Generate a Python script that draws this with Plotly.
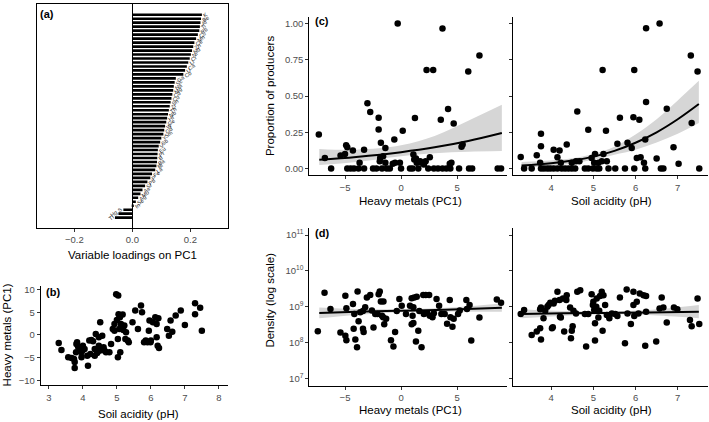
import plotly.graph_objects as go

W, H = 709, 422

# ---------------- Panel (a): PC1 loadings ----------------
elements = ["K", "Be", "Al", "Ti", "Rb", "Cs", "Mn", "Ce", "Zn", "Nd", "Ni", "Cr", "Li",
            "Ca", "U", "Co", "Ga", "Sc", "Na", "Mg", "Cd", "Cu", "Sn", "Zr", "Th", "Nb",
            "Hf", "Ge", "W", "Gd", "Sm", "Y", "Sb", "V", "Eu", "Pr", "B", "Ba", "Bi",
            "La", "Fe", "P", "Pb", "Sr", "As", "Mo", "Ag", "Se", "In", "S", "Hg", "Tl"]
loadings = [0.240, 0.237, 0.235, 0.233, 0.231, 0.226, 0.220, 0.214, 0.210, 0.206, 0.202,
            0.198, 0.193, 0.188, 0.182, 0.176, 0.150, 0.146, 0.143, 0.141, 0.138, 0.135,
            0.132, 0.129, 0.126, 0.123, 0.120, 0.117, 0.113, 0.110, 0.107, 0.100, 0.096,
            0.091, 0.088, 0.087, 0.086, 0.085, 0.083, 0.079, 0.068, 0.062, 0.052, 0.044,
            0.035, 0.028, 0.020, 0.012, 0.005, -0.031, -0.048, -0.060]
loading_ticks = [-0.2, 0.0, 0.2]

# ---------------- Panel (b): pH vs PC1 ----------------
ph_b = [3.29, 3.37, 3.57, 3.67, 3.74, 3.76, 3.76, 3.80, 3.81, 3.83, 3.86, 3.91, 3.96, 3.96,
        4.00, 4.00, 4.05, 4.13, 4.15, 4.19, 4.22, 4.25, 4.30, 4.35, 4.35, 4.38, 4.42, 4.47,
        4.47, 4.49, 4.51, 4.57, 4.61, 4.64, 4.68, 4.78, 4.83, 4.88, 4.93, 4.93, 4.98, 5.00,
        5.03, 5.03, 5.04, 5.05, 5.07, 5.09, 5.10, 5.12, 5.15, 5.17, 5.19, 5.22, 5.25, 5.27,
        5.32, 5.35, 5.46, 5.54, 5.62, 5.71, 5.74, 5.80, 5.85, 5.90, 5.94, 5.96, 5.99, 6.00,
        6.06, 6.13, 6.17, 6.17, 6.20, 6.22, 6.24, 6.48, 6.53, 6.58, 6.63, 6.73, 6.88, 7.00,
        7.30, 7.30, 7.45, 7.50]
pc1_b = [-1.8, -3.3, -4.9, -5.1, -5.3, -6.0, -7.3, -3.8, -2.0, -1.6, -2.6, -2.9, -3.8, -4.9,
         -2.4, -3.3, -3.1, -4.6, -6.8, -1.25, -4.2, -1.1, -1.4, -3.1, -4.6, 0.2, -4.0, -2.4,
         -0.5, -3.5, 2.8, -0.15, -2.7, -3.5, -3.8, -3.8, -2.0, 1.3, 0.95, 2.4, 9.0, 3.3,
         -4.9, -0.9, 8.7, 4.6, 1.3, 3.9, -3.8, 2.4, 1.7, 4.5, 1.1, 2.1, -0.9, 0.6,
         -1.25, -1.6, 2.8, 5.4, 1.3, 6.5, 5.0, -1.6, -1.25, -1.6, 0.95, 3.2, -1.6, -1.25,
         2.8, 3.9, 2.4, -0.5, -2.4, 3.7, -2.9, 1.3, -0.15, 3.2, 0.7, 4.3, 5.4, 2.2,
         7.0, 4.6, 6.0, 0.95]
ph_ticks = [3, 4, 5, 6, 7, 8]
pc1_ticks = [-10, -5, 0, 5, 10]

# ---------------- Panel (c): proportion of producers ----------------
pc1_c = [-7.34, -6.8, -6.24, -5.4, -5.0, -4.9, -4.8, -4.8, -4.5, -4.3, -4.2, -3.8, -3.7, -3.3,
         -3.3, -3.0, -2.75, -2.5, -2.2, -2.0, -2.0, -1.9, -1.86, -1.8, -1.7, -1.6, -1.4, -1.4,
         -1.27, -1.0, -0.74, -0.6, -0.53, -0.3, -0.1, 0.0, 0.15, 0.8, 1.03, 1.1, 1.18, 1.24,
         1.33, 1.4, 1.54, 1.7, 1.83, 2.04, 2.2, 2.28, 2.43, 2.57, 2.87, 2.93, 3.3, 3.55, 3.7,
         3.7, 4.05, 4.2, 4.35, 4.4, 4.5, 4.7, 5.18, 5.4, 5.5, 6.0, 6.07, 6.35, 7.0, 8.63, 8.93]
prop_c = [0.234, 0.073, 0.0, 0.09, 0.10, 0.16, 0.147, 0.0, 0.0, 0.124, 0.0, 0.0, 0.04, 0.0,
          0.13, 0.45, 0.39, 0.0, 0.0, 0.35, 0.27, 0.05, 0.073, 0.177, 0.0, 0.085, 0.142, 0.04,
          0.0, 0.0, 0.032, 0.20, 0.04, 1.0, 0.04, 0.0, 0.26, 0.0, 0.0, 0.096, 0.062, 0.348,
          0.069, 0.04, 0.0, 0.05, 0.04, 0.028, 0.05, 0.68, 0.0, 0.078, 0.68, 0.0, 0.0, 0.337, 0.967,
          0.0, 0.0, 0.41, 0.032, 0.0, 0.04, 0.31, 0.0, 0.15, 0.165, 0.67, 0.0, 0.0, 0.78, 0.0, 0.0]
ph_c = [3.28, 3.36, 3.54, 3.66, 3.74, 3.76, 3.76, 3.76, 3.83, 3.91, 3.98, 4.06, 4.06, 4.15,
        4.2, 4.15, 4.23, 4.25, 4.33, 4.37, 4.41, 4.49, 4.49, 4.57, 4.59, 4.62, 4.67, 4.8,
        4.88, 4.88, 4.96, 4.99, 5.02, 5.04, 5.08, 5.12, 5.14, 5.2, 5.22, 5.24, 5.3, 5.32,
        5.36, 5.52, 5.57, 5.63, 5.75, 5.81, 5.91, 5.95, 5.97, 5.97, 6.03, 6.09, 6.12, 6.2,
        6.23, 6.23, 6.25, 6.25, 6.5, 6.57, 6.6, 6.66, 6.74, 6.9, 7.02, 7.31, 7.33, 7.47, 7.51]
prop_c2 = [0.08, 0.0, 0.0, 0.092, 0.04, 0.154, 0.24, 0.0, 0.0, 0.0, 0.0, 0.13, 0.0, 0.078,
           0.124, 0.0, 0.04, 0.0, 0.0, 0.165, 0.0, 0.04, 0.0, 0.0, 0.05, 0.394, 0.05, 0.0,
           0.268, 0.0, 0.073, 0.0, 0.04, 0.10, 0.0, 0.04, 0.0, 0.05, 0.68, 0.10, 0.26, 0.05,
           0.0, 0.0, 0.17, 0.35, 0.0, 0.177, 0.142, 0.353, 0.68, 0.0, 0.073, 0.337, 0.078, 0.04,
           0.20, 0.0, 0.459, 0.968, 0.069, 1.0, 0.0, 0.0, 0.413, 0.147, 0.032, 0.78, 0.314, 0.67, 0.0]
prop_ticks = [0.0, 0.25, 0.5, 0.75, 1.0]
prop_ticktext = ["0.00", "0.25", "0.50", "0.75", "1.00"]
pc1_ticks_c = [-5, 0, 5]
ph_ticks_c = [4, 5, 6, 7]

# fitted curves
fit_pc1_x = [-7.3, -4, 0, 3, 6, 9]
fit_pc1_y = [0.060, 0.080, 0.113, 0.146, 0.190, 0.245]
fit_pc1_hi = [0.135, 0.130, 0.160, 0.225, 0.330, 0.440]
fit_pc1_lo = [0.025, 0.045, 0.085, 0.105, 0.115, 0.120]
fit_ph_x = [3.3, 4.0, 4.5, 5.0, 5.5, 6.0, 6.5, 7.0, 7.5]
fit_ph_y = [0.020, 0.036, 0.055, 0.082, 0.122, 0.178, 0.250, 0.340, 0.445]
fit_ph_hi = [0.045, 0.055, 0.070, 0.100, 0.150, 0.235, 0.340, 0.470, 0.605]
fit_ph_lo = [0.006, 0.018, 0.035, 0.060, 0.095, 0.130, 0.180, 0.240, 0.314]

# ---------------- Panel (d): density (log10) ----------------
pc1_d = [-7.43, -6.83, -6.3, -5.41, -4.97, -4.97, -4.88, -4.88, -4.29, -4.23, -4.17, -4.08,
         -3.93, -3.88, -3.79, -3.64, -3.4, -3.4, -3.34, -3.2, -3.05, -2.75, -2.6, -2.46, -2.3,
         -2.1, -2.0, -1.9, -1.8, -1.7, -1.6, -1.57, -1.5, -1.33, -0.9, -0.68, -0.53, -0.38,
         -0.15, 0.06, 0.44, 0.8, 0.95, 0.95, 1.03, 1.1, 1.1, 1.18, 1.33, 1.4, 1.54, 1.63, 1.83,
         1.98, 2.04, 2.2, 2.34, 2.51, 2.57, 2.81, 2.93, 3.17, 3.4, 3.6, 3.9, 4.11, 4.35, 4.41,
         4.59, 4.7, 5.09, 5.24, 5.83, 5.89, 6.12, 7.0, 6.27, 8.55, 8.93]
log10_dens_d = [8.32, 9.39, 8.94, 8.28, 9.31, 8.19, 8.96, 8.07, 9.08, 8.39, 8.80, 8.09,
                7.87, 9.43, 8.60, 8.85, 8.88, 8.39, 8.30, 8.99, 9.26, 9.33, 8.90, 8.42, 8.80,
                8.80, 9.35, 9.43, 9.15, 8.75, 8.71, 9.15, 8.51, 8.67, 8.07, 7.89, 8.30, 8.88,
                9.22, 9.03, 8.80, 9.03, 9.24, 8.51, 8.75, 8.55, 8.99, 9.26, 8.03, 9.28, 8.33, 8.88, 7.87,
                9.33, 8.80, 9.33, 8.82, 9.33, 8.75, 8.71, 8.82, 9.22, 9.03, 8.80, 8.80, 8.53, 9.19, 8.71,
                8.44, 8.67, 8.80, 8.90, 9.19, 8.94, 9.05, 8.70, 8.06, 9.20, 9.11]
ph_d = [3.28, 3.36, 3.54, 3.66, 3.74, 3.76, 3.74, 3.76, 3.82, 3.86, 3.91, 3.94, 3.98, 4.02,
        4.04, 4.06, 4.09, 4.15, 4.2, 4.21, 4.23, 4.28, 4.31, 4.36, 4.37, 4.45, 4.49, 4.47,
        4.51, 4.53, 4.59, 4.62, 4.69, 4.8, 4.83, 4.88, 4.96, 4.99, 5.0, 5.02, 5.04, 5.04,
        5.07, 5.08, 5.12, 5.14, 5.16, 5.2, 5.22, 5.24, 5.28, 5.32, 5.38, 5.44, 5.52, 5.57,
        5.63, 5.75, 5.79, 5.81, 5.89, 5.95, 5.95, 5.97, 6.03, 6.07, 6.1, 6.19, 6.23, 6.25,
        6.25, 6.49, 6.57, 6.62, 6.66, 6.74, 6.91, 6.99, 7.29, 7.33, 7.47, 7.51]
log10_dens_d2 = [8.80, 8.91, 8.21, 8.31, 8.40, 8.09, 8.93, 8.98, 8.68, 8.89, 9.00, 9.05, 9.11, 8.40,
                 8.43, 9.09, 9.17, 9.42, 9.19, 8.72, 8.70, 9.23, 8.31, 9.19, 9.32, 8.98, 8.33, 8.12,
                 8.46, 8.89, 8.81, 9.42, 9.46, 8.80, 7.89, 8.80, 9.35, 9.05, 9.14, 8.91, 8.54, 8.06,
                 9.00, 9.23, 8.70, 8.89, 9.30, 9.42, 8.33, 9.32, 9.05, 8.77, 8.68, 8.81, 8.80, 8.74,
                 9.26, 7.98, 9.48, 8.81, 8.52, 9.42, 9.05, 8.74, 9.14, 8.81, 9.37, 9.32, 7.91, 9.30,
                 8.86, 8.03, 8.95, 9.26, 8.98, 8.56, 8.98, 8.93, 8.63, 8.46, 9.23, 8.52]
dens_tickvals = [1e7, 1e8, 1e9, 1e10, 1e11]
dens_ticktext = ["10<sup>7</sup>", "10<sup>8</sup>", "10<sup>9</sup>", "10<sup>10</sup>", "10<sup>11</sup>"]

fitd_pc1_x = [-7.3, -4, 0, 4, 9]
fitd_pc1_y = [8.83, 8.86, 8.89, 8.92, 8.97]
fitd_pc1_hi = [8.98, 8.94, 8.93, 8.97, 9.09]
fitd_pc1_lo = [8.68, 8.77, 8.85, 8.87, 8.86]
fitd_ph_x = [3.3, 4.3, 5.3, 6.3, 7.5]
fitd_ph_y = [8.80, 8.82, 8.83, 8.84, 8.86]
fitd_ph_hi = [8.93, 8.88, 8.87, 8.91, 9.05]
fitd_ph_lo = [8.68, 8.75, 8.79, 8.77, 8.68]

# ---------------- figure ----------------
FONT = "Liberation Sans, Arial, Helvetica, sans-serif"
TICKFONT = dict(family=FONT, size=9.5, color="#4d4d4d")
RIBBON = "#d6d6d6"
MS = 6.5


def px_x(p):
    return p / W


def px_y(p):
    return 1 - p / H


fig = go.Figure()

# (a)
fig.add_trace(go.Bar(x=loadings, y=elements, orientation="h", marker=dict(color="black", line=dict(width=0)),
                     text=elements, textposition="outside", textangle=-35, constraintext="none",
                     textfont=dict(family=FONT, size=5.5, color="#222222"), cliponaxis=False,
                     xaxis="x", yaxis="y"))

# (b)
fig.add_trace(go.Scatter(x=ph_b, y=pc1_b, mode="markers", marker=dict(color="black", size=MS),
                         xaxis="x2", yaxis="y2"))


def ribbon(xs, lo, hi, xa, ya, log=False):
    if log:
        lo = [10 ** v for v in lo]
        hi = [10 ** v for v in hi]
    fig.add_trace(go.Scatter(x=xs, y=lo, mode="lines", line=dict(width=0, shape="spline"),
                             xaxis=xa, yaxis=ya, hoverinfo="skip"))
    fig.add_trace(go.Scatter(x=xs, y=hi, mode="lines", line=dict(width=0, shape="spline"),
                             fill="tonexty", fillcolor=RIBBON, xaxis=xa, yaxis=ya, hoverinfo="skip"))


def fitline(xs, ys, xa, ya, log=False):
    if log:
        ys = [10 ** v for v in ys]
    fig.add_trace(go.Scatter(x=xs, y=ys, mode="lines", line=dict(color="black", width=2, shape="spline"),
                             xaxis=xa, yaxis=ya))


# (c)
ribbon(fit_pc1_x, fit_pc1_lo, fit_pc1_hi, "x3", "y3")
fig.add_trace(go.Scatter(x=pc1_c, y=prop_c, mode="markers", marker=dict(color="black", size=MS),
                         xaxis="x3", yaxis="y3", cliponaxis=False))
fitline(fit_pc1_x, fit_pc1_y, "x3", "y3")
ribbon(fit_ph_x, fit_ph_lo, fit_ph_hi, "x4", "y4")
fig.add_trace(go.Scatter(x=ph_c, y=prop_c2, mode="markers", marker=dict(color="black", size=MS),
                         xaxis="x4", yaxis="y4", cliponaxis=False))
fitline(fit_ph_x, fit_ph_y, "x4", "y4")

# (d)
ribbon(fitd_pc1_x, fitd_pc1_lo, fitd_pc1_hi, "x5", "y5", log=True)
fig.add_trace(go.Scatter(x=pc1_d, y=[10 ** v for v in log10_dens_d], mode="markers",
                         marker=dict(color="black", size=MS), xaxis="x5", yaxis="y5"))
fitline(fitd_pc1_x, fitd_pc1_y, "x5", "y5", log=True)
ribbon(fitd_ph_x, fitd_ph_lo, fitd_ph_hi, "x6", "y6", log=True)
fig.add_trace(go.Scatter(x=ph_d, y=[10 ** v for v in log10_dens_d2], mode="markers",
                         marker=dict(color="black", size=MS), xaxis="x6", yaxis="y6"))
fitline(fitd_ph_x, fitd_ph_y, "x6", "y6", log=True)


def axis(**kw):
    d = dict(showline=True, linecolor="black", linewidth=1, ticks="outside", ticklen=3,
             tickcolor="#333333", tickwidth=1, tickfont=TICKFONT, showgrid=False, zeroline=False,
             fixedrange=True)
    d.update(kw)
    return d


dom_a_x = [px_x(36.7), px_x(228)]
dom_a_y = [px_y(226.7), px_y(2)]
dom_b_x = [px_x(40.7), px_x(227.7)]
dom_b_y = [px_y(385), px_y(285)]
dom_l_x = [px_x(309.3), px_x(507)]
dom_r_x = [px_x(512.7), px_x(707.7)]
dom_c_y = [px_y(174), px_y(15)]
dom_d_y = [px_y(385.5), px_y(227)]

fig.update_layout(
    width=W, height=H, margin=dict(l=0, r=0, t=0, b=0),
    paper_bgcolor="white", plot_bgcolor="white", showlegend=False,
    font=dict(family=FONT, color="black"), bargap=0.33,
    xaxis=axis(domain=dom_a_x, anchor="y", range=[-0.33, 0.33], tickvals=loading_ticks,
               tickformat=".1f", mirror=True, zeroline=True, zerolinecolor="black", zerolinewidth=1),
    yaxis=axis(domain=dom_a_y, anchor="x", range=[len(elements) - 1 + 2.5, -2.7], mirror=True,
               showticklabels=False, ticks="", type="category"),
    xaxis2=axis(domain=dom_b_x, anchor="y2", range=[2.76, 8.26], tickvals=ph_ticks),
    yaxis2=axis(domain=dom_b_y, anchor="x2", range=[-11.1, 10.9], tickvals=pc1_ticks),
    xaxis3=axis(domain=dom_l_x, anchor="y3", range=[-8.19, 9.46], tickvals=pc1_ticks_c),
    yaxis3=axis(domain=dom_c_y, anchor="x3", range=[-0.046, 1.046], tickvals=prop_ticks,
                ticktext=prop_ticktext),
    xaxis4=axis(domain=dom_r_x, anchor="y4", range=[3.09, 7.71], tickvals=ph_ticks_c),
    yaxis4=axis(domain=dom_c_y, anchor="x4", range=[-0.046, 1.046], tickvals=prop_ticks,
                showticklabels=False),
    xaxis5=axis(domain=dom_l_x, anchor="y5", range=[-8.19, 9.46], tickvals=pc1_ticks_c),
    yaxis5=axis(domain=dom_d_y, anchor="x5", type="log", range=[6.8, 11.2], tickvals=dens_tickvals,
                ticktext=dens_ticktext),
    xaxis6=axis(domain=dom_r_x, anchor="y6", range=[3.09, 7.71], tickvals=ph_ticks_c),
    yaxis6=axis(domain=dom_d_y, anchor="x6", type="log", range=[6.8, 11.2], tickvals=dens_tickvals,
                showticklabels=False),
)


def note(text, x, y, size=11.5, angle=0, bold=False):
    fig.add_annotation(text=f"<b>{text}</b>" if bold else text, x=px_x(x), y=px_y(y),
                       xref="paper", yref="paper", showarrow=False, textangle=angle,
                       xanchor="center", yanchor="middle", font=dict(family=FONT, size=size, color="black"))


note("Variable loadings on PC1", 132, 254)
note("Soil acidity (pH)", 138, 414)
note("Heavy metals (PC1)", 7, 335, angle=-90)
note("Heavy metals (PC1)", 410, 200)
note("Soil acidity (pH)", 611, 200)
note("Proportion of producers", 270, 94.5, angle=-90)
note("Heavy metals (PC1)", 410, 410)
note("Soil acidity (pH)", 611, 410)
note("Density (log scale)", 270, 300, angle=-90)
note("(a)", 47, 12.5, size=11, bold=True)
note("(b)", 53, 291, size=11, bold=True)
note("(c)", 322, 19, size=11, bold=True)
note("(d)", 322, 232.5, size=11, bold=True)

fig.write_html("out.html", config={"displayModeBar": False},
               post_script="document.body.style.margin='0px';document.body.style.overflow='hidden';")
